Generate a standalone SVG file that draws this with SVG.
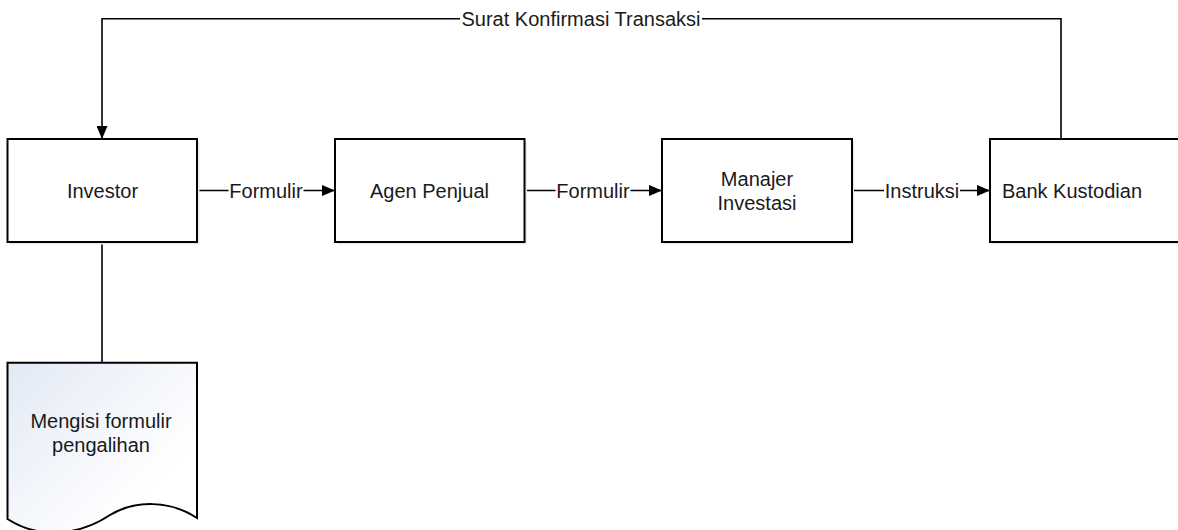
<svg xmlns="http://www.w3.org/2000/svg" width="1178" height="530" viewBox="0 0 1178 530">
<style>
.box{fill:#ffffff;stroke:#000;stroke-width:2}
.sh{fill:#e6ebf2}
.t{font-family:"Liberation Sans",Arial,sans-serif;font-size:20px;fill:#1a1a1a;text-anchor:middle}
.c{fill:none;stroke:#000;stroke-width:1.6}
.lb{fill:#ffffff}
</style>
<defs>
<marker id="ah" viewBox="0 0 13 11" refX="13" refY="5.5" markerWidth="13" markerHeight="11" markerUnits="userSpaceOnUse" orient="auto">
<path d="M0,0 L13,5.5 L0,11 Z" fill="#000"/>
</marker>
<linearGradient id="dg" gradientUnits="userSpaceOnUse" x1="7" y1="363" x2="140" y2="496">
<stop offset="0" stop-color="#e2e9f5"/>
<stop offset="1" stop-color="#ffffff"/>
</linearGradient>
</defs>

<g id="connectors">
<path class="c" d="M197,190.5 H335" marker-end="url(#ah)"/>
<rect class="lb" x="228.5" y="178" width="75" height="24"/>
<text class="t" x="266" y="197.5">Formulir</text>

<path class="c" d="M524.5,190.5 H662" marker-end="url(#ah)"/>
<rect class="lb" x="555.5" y="178" width="75" height="24"/>
<text class="t" x="593" y="197.5">Formulir</text>

<path class="c" d="M852,190.5 H990" marker-end="url(#ah)"/>
<rect class="lb" x="884" y="178" width="76" height="24"/>
<text class="t" x="922" y="197.5">Instruksi</text>

<path class="c" d="M1061,139 V18.7 H102 V139" marker-end="url(#ah)"/>
<rect class="lb" x="460" y="6" width="242" height="24"/>
<text class="t" x="581" y="25.5">Surat Konfirmasi Transaksi</text>

<path class="c" d="M102,242 V363"/>
</g>

<g id="investor">
<rect class="sh" x="10" y="141.5" width="189.5" height="103"/>
<rect class="box" x="7.5" y="139" width="189.5" height="103"/>
<text class="t" x="102.5" y="198">Investor</text>
</g>

<g id="agen-penjual">
<rect class="sh" x="337.5" y="141.5" width="189.5" height="103"/>
<rect class="box" x="335" y="139" width="189.5" height="103"/>
<text class="t" x="429.5" y="198">Agen Penjual</text>
</g>

<g id="manajer-investasi">
<rect class="sh" x="664.5" y="141.5" width="189.5" height="103"/>
<rect class="box" x="662" y="139" width="190" height="103"/>
<text class="t" x="757" y="185.5">Manajer</text>
<text class="t" x="757" y="210">Investasi</text>
</g>

<g id="bank-kustodian">
<rect class="sh" x="992.5" y="141.5" width="190" height="103"/>
<rect class="box" x="990" y="139" width="190" height="103"/>
<text class="t" x="1072" y="198">Bank Kustodian</text>
</g>

<g id="mengisi-formulir">
<path d="M7.5,362.7 H197 V518 C170,500 135,500 110,515 C80,535 40,540 7.5,519 Z" fill="url(#dg)" stroke="#000" stroke-width="2"/>
<text class="t" x="101" y="428">Mengisi formulir</text>
<text class="t" x="101" y="451.5">pengalihan</text>
</g>
</svg>
